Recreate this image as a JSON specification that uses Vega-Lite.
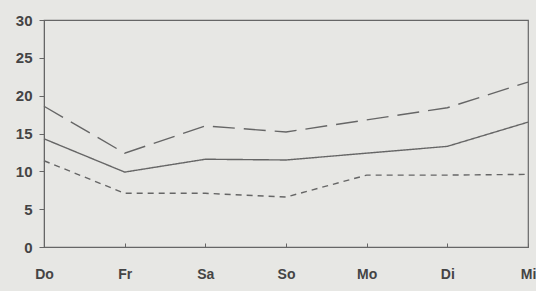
{
  "$schema": "https://vega.github.io/schema/vega-lite/v6.json",
  "autosize": "none",
  "width": 484,
  "height": 227,
  "padding": {"left": 44, "top": 20, "right": 8, "bottom": 44},
  "background": "#e7e7e4",
  "config": {
    "view": {"stroke": "#666", "strokeWidth": 1.2},
    "axis": {"labelFont": "Liberation Sans", "labelFontSize": 14, "labelFontWeight": "bold", "labelColor": "#444", "domainColor": "#666", "tickColor": "#666", "grid": false, "title": null}
  },
  "data": {"values": [
    {"day": "Do", "s": "a", "v": 18.6}, {"day": "Fr", "s": "a", "v": 12.4}, {"day": "Sa", "s": "a", "v": 16.0}, {"day": "So", "s": "a", "v": 15.2}, {"day": "Mo", "s": "a", "v": 16.8}, {"day": "Di", "s": "a", "v": 18.4}, {"day": "Mi", "s": "a", "v": 21.8},
    {"day": "Do", "s": "b", "v": 14.3}, {"day": "Fr", "s": "b", "v": 9.9}, {"day": "Sa", "s": "b", "v": 11.6}, {"day": "So", "s": "b", "v": 11.5}, {"day": "Mo", "s": "b", "v": 12.4}, {"day": "Di", "s": "b", "v": 13.3}, {"day": "Mi", "s": "b", "v": 16.5},
    {"day": "Do", "s": "c", "v": 11.4}, {"day": "Fr", "s": "c", "v": 7.1}, {"day": "Sa", "s": "c", "v": 7.1}, {"day": "So", "s": "c", "v": 6.6}, {"day": "Mo", "s": "c", "v": 9.5}, {"day": "Di", "s": "c", "v": 9.5}, {"day": "Mi", "s": "c", "v": 9.6}
  ]},
  "mark": {"type": "line", "color": "#666", "strokeWidth": 1.4},
  "encoding": {
    "x": {"field": "day", "type": "ordinal", "sort": null, "scale": {"type": "point", "padding": 0},
      "axis": {"labelAngle": 0, "tickSize": -4, "labelPadding": 24, "domain": true}},
    "y": {"field": "v", "type": "quantitative", "scale": {"domain": [0, 30], "nice": false},
      "axis": {"values": [0, 5, 10, 15, 20, 25, 30], "tickSize": 5, "labelPadding": 7, "labelFontSize": 15}},
    "strokeDash": {"field": "s", "type": "nominal", "legend": null,
      "scale": {"domain": ["a", "b", "c"], "range": [[22, 9], [1, 0], [6, 5]]}}
  }
}
